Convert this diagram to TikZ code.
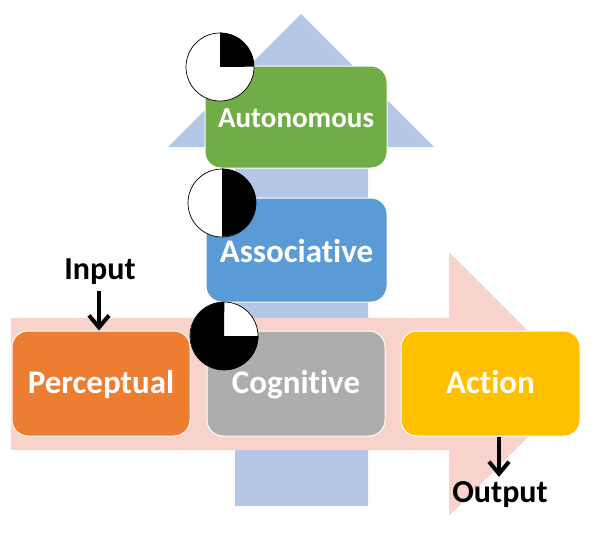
\documentclass[tikz,border=0pt]{standalone}
\usepackage{fontspec}
\setmainfont[Ligatures=NoCommon]{Carlito}
\usetikzlibrary{arrows.meta}
\definecolor{upblue}{HTML}{B4C7E7}
\definecolor{rightpink}{HTML}{F8D3CB}
\definecolor{autogreen}{HTML}{70AD47}
\definecolor{assocblue}{HTML}{5B9BD5}
\definecolor{percorange}{HTML}{ED7D31}
\definecolor{coggray}{HTML}{ADADAD}
\definecolor{actgold}{HTML}{FFC000}
\tikzset{
    stage/.style={draw=white,line width=1pt,rounded corners=16pt,minimum height=105pt,inner sep=0pt,
        text=white,text height=24pt,text depth=4pt,font=\bfseries\fontsize{33}{36}\selectfont},
    dial/.style={circle,draw=black,fill=white,line width=0.7pt,minimum size=68pt,inner sep=0pt},
    ioLabel/.style={text=black,font=\bfseries\fontsize{32}{36}\selectfont,inner sep=0pt,anchor=base},
}

\begin{document}
\begin{tikzpicture}[x=1pt,y=-1pt]
    \useasboundingbox (0,0) rectangle (594,538);
    % the two big arrows
    \fill[upblue] (301,14) -- (434,147) -- (368,147) -- (368,506) -- (235,506) -- (235,147) -- (168,147) -- cycle;
    \fill[rightpink] (11,318) -- (449,318) -- (449,252) -- (581,384) -- (449,516) -- (449,450) -- (11,450) -- cycle;

    \node[stage,fill=autogreen,minimum width=182pt,minimum height=102pt,font=\bfseries\fontsize{29}{32}\selectfont] (autonomous) at (296,117) {Autonomous};
    \node[stage,fill=assocblue,minimum width=181pt,minimum height=104pt,text height=26pt,text depth=2pt] (associative) at (296.5,250) {Associative};
    \node[stage,fill=percorange,minimum width=178pt] (perceptual) at (101,383.5) {Perceptual};
    \node[stage,fill=coggray,minimum width=178pt] (cognitive) at (296,383.5) {Cognitive};
    \node[stage,fill=actgold,minimum width=179pt] (action) at (490.5,383.5) {Action};

    % dials
    \node[dial] (dial1) at (220,67) {};
    \node[dial] (dial2) at (222,203) {};
    \node[dial] (dial3) at (224,336) {};
    \fill (dial1.center) -- (dial1.north) arc (90:0:34pt) -- cycle;
    \fill (dial2.north) arc (90:-90:34pt) -- cycle;
    \fill (dial3.center) -- (dial3.east) arc (0:-270:34pt) -- cycle;

    \node[ioLabel] (input) at (100,279) {Input};
    \node[ioLabel] (output) at (500,502) {Output};

    \path[-{Straight Barb[length=12pt,width=20pt,line width=4pt]},black,line width=4pt]
    (input.south -| 99,0) edge [shorten <=7pt] (perceptual.north -| 99,0)
    (action.south -| 499,0) edge [shorten >=4pt] (output.north -| 499,0);
\end{tikzpicture}
\end{document}
